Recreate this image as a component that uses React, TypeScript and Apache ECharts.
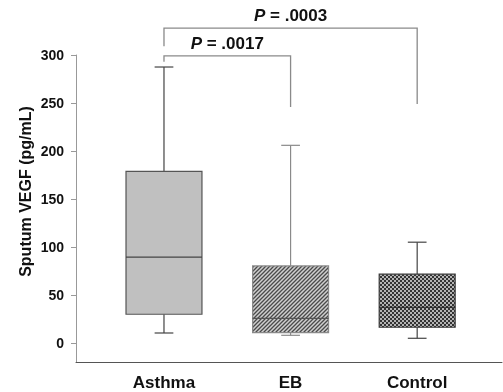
import React, { useEffect, useRef } from "react";
import * as echarts from "echarts";

const categories = ["Asthma", "EB", "Control"];
const catPos = [1, 2, 3];
const lowWhisker = [10.7, 8.3, 5.2];
const q1Values = [30.2, 11, 16.7];
const medianValues = [89.6, 26, 37.5];
const q3Values = [178.8, 80.5, 71.9];
const highWhisker = [287.5, 206, 105.2];
const yTicks = [0, 50, 100, 150, 200, 250, 300];

const bracketLeft = [1, 1];
const bracketRight = [3, 2];
const bracketTop = [328, 299];
const bracketLeftEnd = [309, 293];
const bracketRightEnd = [249, 246];
const pLabels = [" = .0003", " = .0017"];

const FONT = "'Liberation Sans', Arial, sans-serif";

function makePattern(kind: "hatch" | "check"): string {
  const c = document.createElement("canvas");
  const ctx = c.getContext("2d")!;
  c.width = 4;
  c.height = 4;
  if (kind === "hatch") {
    ctx.fillStyle = "#cfcfcf";
    ctx.fillRect(0, 0, 4, 4);
    ctx.strokeStyle = "#4a4a4a";
    ctx.lineWidth = 1.3;
    ctx.beginPath();
    ctx.moveTo(-1, 5);
    ctx.lineTo(5, -1);
    ctx.moveTo(-1, 1);
    ctx.lineTo(1, -1);
    ctx.moveTo(3, 5);
    ctx.lineTo(5, 3);
    ctx.stroke();
  } else {
    ctx.fillStyle = "#b4b4b4";
    ctx.fillRect(0, 0, 4, 4);
    ctx.fillStyle = "#333333";
    ctx.fillRect(0, 0, 2, 2);
    ctx.fillRect(2, 2, 2, 2);
  }
  return c.toDataURL();
}

export default function App() {
  const ref = useRef<HTMLDivElement>(null);
  useEffect(() => {
    if (!ref.current) return;
    const chart = echarts.init(ref.current, null, { renderer: "svg" });
    const hatch = makePattern("hatch");
    const check = makePattern("check");
    const fills: any[] = [
      "#c0c0c0",
      { image: hatch, repeat: "repeat" },
      { image: check, repeat: "repeat" },
    ];
    const borders = ["#555555", "#8a8a8a", "#3a3a3a"];
    const whiskerColors = ["#444444", "#8a8a8a", "#444444"];
    const medianColors = ["#444444", "#555555", "#222222"];

    const boxData = categories.map((_, i) => [
      catPos[i],
      lowWhisker[i],
      q1Values[i],
      medianValues[i],
      q3Values[i],
      highWhisker[i],
    ]);
    const bracketData = bracketLeft.map((_, i) => [
      bracketLeft[i],
      bracketRight[i],
      bracketTop[i],
      bracketLeftEnd[i],
      bracketRightEnd[i],
    ]);

    chart.setOption({
      animation: false,
      grid: { left: 76, right: 1, top: 55, bottom: 29.5 },
      xAxis: {
        type: "value",
        min: 0.305,
        max: 3.67,
        splitLine: { show: false },
        axisTick: { show: false },
        axisLine: { show: true, onZero: false, lineStyle: { color: "#555555", width: 1 } },
        axisLabel: {
          customValues: catPos,
          formatter: (v: number) => categories[Math.round(v) - 1] ?? "",
          fontFamily: FONT,
          fontSize: 17,
          fontWeight: "bold",
          color: "#111",
          margin: 11,
        },
      },
      yAxis: {
        type: "value",
        min: -20,
        max: 300,
        splitLine: { show: false },
        axisLine: { show: true, lineStyle: { color: "#999999", width: 1 } },
        axisTick: {
          show: true,
          customValues: yTicks,
          length: 5,
          lineStyle: { color: "#999999" },
        },
        axisLabel: {
          customValues: yTicks,
          fontFamily: FONT,
          fontSize: 14,
          fontWeight: "bold",
          color: "#111",
          margin: 12,
        },
      },
      graphic: [
        {
          type: "text",
          x: 25,
          y: 191.5,
          rotation: Math.PI / 2,
          style: {
            text: "Sputum VEGF (pg/mL)",
            fontFamily: FONT,
            fontSize: 16,
            fontWeight: "bold",
            fill: "#111",
            align: "center",
            verticalAlign: "middle",
          },
        },
      ],
      series: [
        {
          type: "custom",
          data: boxData,
          encode: { x: 0, y: [1, 2, 3, 4, 5] },
          clip: false,
          renderItem: (params: any, api: any) => {
            const i = params.dataIndex;
            const x = api.value(0);
            const lo = api.value(1);
            const q1 = api.value(2);
            const med = api.value(3);
            const q3 = api.value(4);
            const hi = api.value(5);
            const half = 0.3;
            const cap = 0.074;
            const c = (xx: number, yy: number) => api.coord([xx, yy]);
            const pc = c(x, 0);
            const xl = c(x - half, 0)[0];
            const xr = c(x + half, 0)[0];
            const cl = c(x - cap, 0)[0];
            const cr = c(x + cap, 0)[0];
            const yLo = c(x, lo)[1];
            const yQ1 = c(x, q1)[1];
            const yMed = c(x, med)[1];
            const yQ3 = c(x, q3)[1];
            const yHi = c(x, hi)[1];
            const wStyle = { stroke: whiskerColors[i], lineWidth: 1.2 };
            return {
              type: "group",
              children: [
                { type: "line", shape: { x1: pc[0], y1: yHi, x2: pc[0], y2: yQ3 }, style: wStyle },
                { type: "line", shape: { x1: pc[0], y1: yQ1, x2: pc[0], y2: yLo }, style: wStyle },
                { type: "line", shape: { x1: cl, y1: yHi, x2: cr, y2: yHi }, style: wStyle },
                { type: "line", shape: { x1: cl, y1: yLo, x2: cr, y2: yLo }, style: wStyle },
                {
                  type: "rect",
                  shape: { x: xl, y: yQ3, width: xr - xl, height: yQ1 - yQ3 },
                  style: { fill: fills[i], stroke: borders[i], lineWidth: 1.2 },
                },
                {
                  type: "line",
                  shape: { x1: xl, y1: yMed, x2: xr, y2: yMed },
                  style: { stroke: medianColors[i], lineWidth: 1.2 },
                },
              ],
            };
          },
        },
        {
          type: "custom",
          data: bracketData,
          encode: { x: [0, 1], y: [2, 3, 4] },
          clip: false,
          renderItem: (params: any, api: any) => {
            const i = params.dataIndex;
            const x1 = api.value(0);
            const x2 = api.value(1);
            const top = api.value(2);
            const le = api.value(3);
            const re = api.value(4);
            const a = api.coord([x1, le]);
            const b = api.coord([x1, top]);
            const d = api.coord([x2, top]);
            const e = api.coord([x2, re]);
            return {
              type: "group",
              children: [
                {
                  type: "polyline",
                  shape: { points: [a, b, d, e] },
                  style: { stroke: "#8a8a8a", lineWidth: 1.3, fill: "none" },
                },
                {
                  type: "text",
                  style: {
                    text: "{p|P}{n|" + pLabels[i] + "}",
                    x: (b[0] + d[0]) / 2,
                    y: b[1] - 4,
                    align: "center",
                    verticalAlign: "bottom",
                    rich: {
                      p: { fontFamily: FONT, fontSize: 17, fontWeight: "bold", fontStyle: "italic", fill: "#111" },
                      n: { fontFamily: FONT, fontSize: 17, fontWeight: "bold", fill: "#111" },
                    },
                  },
                },
              ],
            };
          },
        },
      ],
    });
    return () => chart.dispose();
  }, []);
  return (
    <div
      ref={ref}
      style={{ position: "fixed", left: 0, top: 0, width: 503, height: 392 }}
    />
  );
}
